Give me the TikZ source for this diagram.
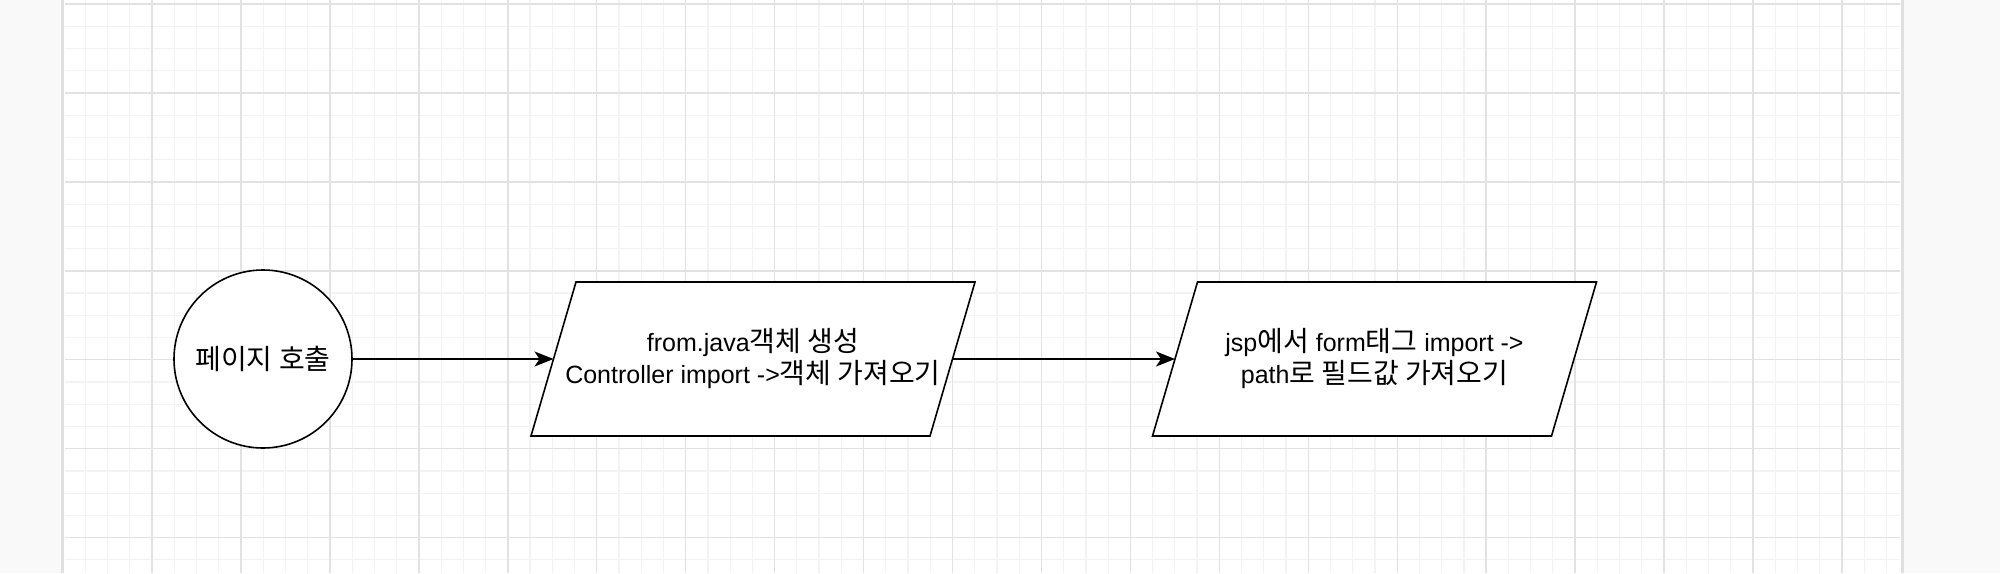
\documentclass[tikz,border=0pt]{standalone}
\usepackage{fontspec}
\setmainfont{Liberation Sans}
\newfontfamily\krfont[Scale=1.12]{Noto Sans CJK KR}
\newcommand\K[1]{{\krfont #1}}
\usetikzlibrary{arrows.meta}
\pgfdeclarelayer{gridlayer}
\pgfdeclarelayer{shapelayer}
\pgfsetlayers{gridlayer,shapelayer,main}
\definecolor{outside}{RGB}{249,249,249}
\definecolor{pageedge}{RGB}{224,224,224}
\definecolor{gmajor}{RGB}{226,226,226}
\definecolor{gminor}{RGB}{243,243,243}
\tikzset{
  shapeline/.style={draw=black, line width=1.6pt, fill=white},
  startcirc/.style={shapeline, circle, minimum size=178pt, inner sep=0pt, font=\fontsize{25}{32}\selectfont},
  iobox/.style={rectangle, minimum width=399pt, minimum height=154pt, inner sep=0pt, outer sep=0pt,
    align=center, font=\fontsize{25}{32}\selectfont},
  flow/.style={line width=1.6pt, -{Stealth[length=19pt,width=15pt,inset=5pt]}},
  minorline/.style={gminor, line width=1.2pt},
  majorline/.style={gmajor, line width=1.4pt},
}
\begin{document}
\begin{tikzpicture}[x=1pt,y=-1pt]
\useasboundingbox (0,0) rectangle (2000,573);
\begin{pgfonlayer}{gridlayer}
\fill[outside] (0,0) rectangle (2000,573);
\fill[white] (62,0) rectangle (1903,573);
\begin{scope}
  \clip (65,0) rectangle (1900,573);
  \foreach \i in {0,...,83} \draw[minorline] ({63.1+\i*22.235},0) -- ++(0,573);
  \foreach \j in {0,...,25} \draw[minorline] (0,{4+\j*22.235}) -- ++(2000,0);
  \foreach \i in {0,...,21} \draw[majorline] ({63.1+\i*88.94},0) -- ++(0,573);
  \foreach \j in {0,...,6} \draw[majorline] (0,{4+\j*88.94}) -- ++(2000,0);
\end{scope}
\draw[pageedge, line width=2.5pt] (62.5,0) -- (62.5,573);
\draw[pageedge, line width=2.5pt] (1902.5,0) -- (1902.5,573);
\end{pgfonlayer}

\node[startcirc] (call) at (263,359) {\K{페이지 호출}};
\node[iobox] (form) at (753,359) {from.java\K{객체 생성}\\Controller import ->\K{객체 가져오기}};
\node[iobox] (jsp) at (1374.5,359) {jsp\K{에서} form\K{태그} import ->\\path\K{로 필드값 가져오기}};

\begin{pgfonlayer}{shapelayer}
\foreach \n in {form,jsp}
  \draw[shapeline] ([xshift=22.5pt]\n.north west) -- ([xshift=22.5pt]\n.north east)
    -- ([xshift=-22.5pt]\n.south east) -- ([xshift=-22.5pt]\n.south west) -- cycle;
\end{pgfonlayer}

\draw[flow] (call) -- (form);
\draw[flow] (form) -- (jsp);
\end{tikzpicture}
\end{document}
